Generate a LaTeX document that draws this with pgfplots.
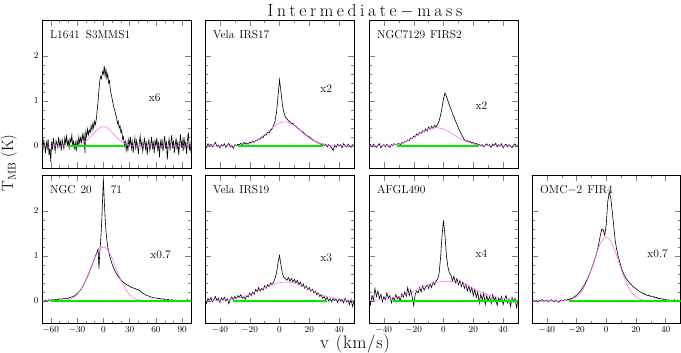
\documentclass[border=0pt]{standalone}
\usepackage{fontspec}
\usepackage{pgfplots}
\pgfplotsset{compat=1.18}

\definecolor{fitpink}{RGB}{255,110,255}
\definecolor{basegreen}{RGB}{0,235,0}
\newcommand{\labfont}{\fontsize{11.5}{13}\selectfont}
\newcommand{\bigfont}{\fontsize{17.5}{21}\selectfont}
\makeatletter
% put a little space after every letter (wide plotter-style lettering)
\newcommand{\spaceout}[2]{\@tfor\next:=#2\do{\next\hspace{#1}}}
\makeatother

\pgfplotsset{
  spec/.style={
    scale only axis, width=149pt, height=148.5pt, anchor=north west,
    ymin=-0.5, ymax=2.8, ytick={0,1,2}, minor y tick num=4,
    tick align=inside, tick pos=both,
    major tick length=6pt, minor tick length=3pt,
    every tick/.append style={line width=0.4pt},
    axis line style={line width=0.6pt},
    tick label style={font=\fontsize{9.5}{11}\selectfont},
  },
  wide/.style={xmin=-70, xmax=100, xtick={-60,-30,0,30,60,90}, minor x tick num=2},
  narrow/.style={xmin=-50, xmax=50, xtick={-40,-20,0,20,40}, minor x tick num=1},
  nox/.style={xticklabels={}},
  noy/.style={yticklabels={}},
  obs/.style={black, line width=0.6pt, no markers},
  fit/.style={fitpink, line width=0.6pt, no markers, smooth},
  base/.style={basegreen, line width=1.2pt, no markers},
}
\newcommand{\name}[1]{\node[anchor=north west, inner sep=0, font=\labfont, xshift=8pt, yshift=-10.5pt] at (rel axis cs:0,1) {#1};}
\newcommand{\mult}[3]{\node[inner sep=0, font=\labfont] at (rel axis cs:#1,#2) {#3};}

\begin{document}
\begin{tikzpicture}
\path[use as bounding box] (0,0) rectangle (681pt,-353pt);

% L1641 S3MMS1
\begin{axis}[spec, wide, nox, at={(42pt,-20pt)}]
\addplot[obs] coordinates {
(-70,0.05) (-69,-0.10) (-68,0.12) (-67,0.02) (-66,-0.15) (-65,0.08) (-64,-0.05) (-63,0.15) (-62,-0.20) (-61,-0.05)
(-60,-0.35) (-59,0.10) (-58,-0.08) (-57,0.18) (-56,0.02) (-55,-0.12) (-54,0.12) (-53,0.05) (-52,-0.03) (-51,0.20)
(-50,0.00) (-49,0.10) (-48,-0.10) (-47,0.14) (-46,0.04) (-45,-0.06) (-44,0.18) (-43,0.06) (-42,0.22) (-41,0.02)
(-40,0.12) (-39,-0.04) (-38,0.16) (-37,0.08) (-36,0.24) (-35,0.02) (-34,0.10) (-33,-0.05) (-32,0.08) (-31,-0.12)
(-30,0.12) (-29,0.00) (-28,0.20) (-27,0.06) (-26,0.18) (-25,0.08) (-24,0.25) (-23,0.12) (-22,0.28) (-21,-0.15)
(-20,0.32) (-19,0.20) (-18,0.38) (-17,0.25) (-16,0.35) (-15,0.30) (-14,0.45) (-13,0.35) (-12,0.50) (-11,0.40)
(-10,0.55) (-9,0.48) (-8,0.60) (-7,0.80) (-6,1.00) (-5,1.25) (-4,1.45) (-3,1.55) (-2,1.50) (-1,1.65)
(0,1.60) (1,1.78) (2,1.55) (3,1.70) (4,1.50) (5,1.60) (6,1.40) (7,1.45) (8,1.25) (9,1.15)
(10,1.05) (11,0.95) (12,0.85) (13,0.80) (14,0.70) (15,0.65) (16,0.50) (17,0.55) (18,0.40) (19,0.45)
(20,0.30) (21,0.35) (22,0.15) (23,0.20) (24,0.00) (25,0.10) (26,-0.10) (27,0.08) (28,-0.12) (29,0.15)
(30,0.02) (31,0.20) (32,-0.05) (33,0.10) (34,-0.15) (35,0.05) (36,0.18) (37,-0.08) (38,0.12) (39,0.00)
(40,-0.18) (41,0.08) (42,0.22) (43,-0.02) (44,0.10) (45,-0.12) (46,0.05) (47,0.16) (48,-0.06) (49,0.10)
(50,-0.20) (51,0.04) (52,0.14) (53,-0.10) (54,0.02) (55,0.20) (56,-0.04) (57,0.08) (58,-0.16) (59,0.12)
(60,0.00) (61,0.18) (62,-0.08) (63,0.06) (64,-0.25) (65,0.10) (66,-0.02) (67,0.15) (68,-0.12) (69,0.05)
(70,0.22) (71,-0.06) (72,0.10) (73,-0.30) (74,0.04) (75,0.16) (76,-0.10) (77,0.08) (78,0.24) (79,-0.05)
(80,0.12) (81,-0.15) (82,0.02) (83,0.18) (84,-0.08) (85,0.10) (86,-0.20) (87,0.06) (88,0.26) (89,-0.04)
(90,0.12) (91,-0.12) (92,0.20) (93,-0.02) (94,0.08) (95,-0.18) (96,0.15) (97,0.30) (98,-0.10) (99,0.05) (100,-0.15)
};
\addplot[fit] coordinates {
(-70,0) (-50,0) (-45,0.0003) (-40,0.0017) (-35,0.006) (-30,0.019) (-25,0.049) (-20,0.107) (-15,0.197) (-10,0.304)
(-5,0.394) (0,0.43) (5,0.394) (10,0.304) (15,0.197) (20,0.107) (25,0.049) (30,0.019) (35,0.006) (40,0.0017) (45,0.0003) (50,0) (100,0)
};
\addplot[base] coordinates {(-40,0) (26,0)};
\name{L1641\hspace{6pt}S3MMS1}
\mult{0.756}{0.473}{x6}
\end{axis}

% Vela IRS17
\begin{axis}[spec, narrow, nox, noy, at={(205pt,-20pt)}]
\addplot[obs] coordinates {
(-50,0.02) (-49,-0.03) (-48,0.05) (-47,0.00) (-46,0.04) (-45,-0.02) (-44,0.03) (-43,0.08) (-42,-0.01) (-41,0.02)
(-40,-0.04) (-39,0.03) (-38,0.00) (-37,0.05) (-36,-0.03) (-35,0.02) (-34,0.06) (-33,-0.02) (-32,0.01) (-31,-0.05)
(-30,0.03) (-29,0.00) (-28,0.04) (-27,0.02) (-26,0.06) (-25,0.03) (-24,0.08) (-23,0.05) (-22,0.07) (-21,0.04)
(-20,0.09) (-19,0.07) (-18,0.11) (-17,0.08) (-16,0.13) (-15,0.12) (-14,0.16) (-13,0.15) (-12,0.20) (-11,0.19)
(-10,0.25) (-9,0.24) (-8,0.30) (-7,0.29) (-6,0.35) (-5,0.38) (-4,0.45) (-3,0.55) (-2,0.75) (-1,1.10)
(0,1.47) (1,1.20) (2,0.90) (3,0.74) (4,0.64) (5,0.60) (6,0.56) (7,0.54) (8,0.50) (9,0.50)
(10,0.46) (11,0.44) (12,0.40) (13,0.39) (14,0.34) (15,0.33) (16,0.30) (17,0.27) (18,0.24) (19,0.22)
(20,0.20) (21,0.17) (22,0.15) (23,0.12) (24,0.10) (25,0.09) (26,0.06) (27,0.07) (28,0.03) (29,0.05)
(30,0.01) (31,0.04) (32,-0.02) (33,0.03) (34,0.00) (35,-0.04) (36,-0.10) (37,0.02) (38,-0.03) (39,0.04)
(40,0.00) (41,0.03) (42,-0.04) (43,0.05) (44,0.01) (45,-0.02) (46,0.04) (47,0.00) (48,-0.03) (49,0.03) (50,0.01)
};
\addplot[fit] coordinates {
(-50,0) (-45,0) (-40,0.0002) (-35,0.0012) (-30,0.0052) (-25,0.019) (-20,0.055) (-15,0.132) (-10,0.254) (-5,0.40)
(0,0.514) (5,0.535) (10,0.454) (15,0.312) (20,0.175) (25,0.080) (30,0.030) (35,0.009) (40,0.0022) (45,0.0004) (50,0)
};
\addplot[base] coordinates {(-28,0) (29,0)};
\name{Vela\hspace{5pt}IRS17}
\mult{0.814}{0.539}{x2}
\end{axis}

% NGC7129 FIRS2
\begin{axis}[spec, narrow, nox, noy, at={(369pt,-20pt)}]
\addplot[obs] coordinates {
(-50,0.00) (-49,0.03) (-48,-0.02) (-47,0.04) (-46,0.00) (-45,-0.03) (-44,0.02) (-43,0.05) (-42,-0.04) (-41,0.01)
(-40,0.03) (-39,-0.02) (-38,0.04) (-37,0.00) (-36,-0.03) (-35,0.03) (-34,0.01) (-33,0.05) (-32,0.02) (-31,0.04)
(-30,0.06) (-29,0.03) (-28,0.08) (-27,0.06) (-26,0.10) (-25,0.09) (-24,0.14) (-23,0.12) (-22,0.18) (-21,0.16)
(-20,0.22) (-19,0.20) (-18,0.27) (-17,0.24) (-16,0.30) (-15,0.28) (-14,0.34) (-13,0.31) (-12,0.38) (-11,0.33)
(-10,0.42) (-9,0.37) (-8,0.44) (-7,0.39) (-6,0.46) (-5,0.42) (-4,0.48) (-3,0.55) (-2,0.68) (-1,0.85)
(0,1.05) (1,1.18) (2,1.10) (3,1.00) (4,0.90) (5,0.82) (6,0.72) (7,0.65) (8,0.56) (9,0.48)
(10,0.40) (11,0.33) (12,0.26) (13,0.20) (14,0.14) (15,0.10) (16,0.12) (17,0.08) (18,0.10) (19,0.06)
(20,0.08) (21,0.04) (22,0.06) (23,0.02) (24,0.04) (25,0.00) (26,0.03) (27,-0.02) (28,0.02) (29,0.05)
(30,0.00) (31,0.03) (32,-0.03) (33,0.04) (34,0.01) (35,0.06) (36,-0.02) (37,0.03) (38,0.00) (39,0.05)
(40,-0.04) (41,0.02) (42,0.04) (43,-0.02) (44,0.03) (45,0.00) (46,-0.04) (47,0.02) (48,0.05) (49,-0.01) (50,0.02)
};
\addplot[fit] coordinates {
(-50,0.0004) (-45,0.0016) (-40,0.0058) (-35,0.018) (-30,0.047) (-25,0.102) (-20,0.188) (-15,0.29) (-10,0.376) (-5,0.41)
(0,0.376) (5,0.29) (10,0.188) (15,0.102) (20,0.047) (25,0.018) (30,0.0058) (35,0.0016) (40,0.0004) (45,0.0001) (50,0)
};
\addplot[base] coordinates {(-31,0) (24,0)};
\name{NGC7129\hspace{5pt}FIRS2}
\mult{0.754}{0.426}{x2}
\end{axis}

% NGC 2071
\begin{axis}[spec, wide, at={(42pt,-175pt)}]
\addplot[obs] coordinates {
(-70,0.00) (-68,-0.02) (-66,0.02) (-64,-0.01) (-62,0.03) (-60,0.01) (-58,0.03) (-56,0.02) (-54,0.04) (-52,0.03)
(-50,0.05) (-48,0.04) (-46,0.05) (-44,0.05) (-42,0.06) (-40,0.06) (-38,0.08) (-36,0.09) (-34,0.10) (-32,0.13)
(-30,0.16) (-28,0.20) (-26,0.25) (-24,0.30) (-22,0.38) (-20,0.46) (-18,0.55) (-16,0.64) (-14,0.74) (-12,0.84)
(-10,0.95) (-9,1.00) (-8,1.05) (-7,1.10) (-6,1.15) (-5,0.72) (-4,1.10) (-3,1.35) (-2,1.70) (-1,2.20)
(0,2.70) (1,2.25) (2,1.85) (3,1.55) (4,1.35) (5,1.20) (6,1.10) (7,1.02) (8,0.95) (9,0.88)
(10,0.82) (12,0.72) (14,0.64) (16,0.58) (18,0.52) (20,0.47) (22,0.43) (24,0.40) (26,0.37) (28,0.35)
(30,0.33) (32,0.30) (34,0.29) (36,0.28) (38,0.26) (40,0.25) (42,0.22) (44,0.19) (46,0.16) (48,0.14)
(50,0.12) (52,0.11) (54,0.09) (56,0.08) (58,0.07) (60,0.07) (62,0.05) (64,0.06) (66,0.04) (68,0.05)
(70,0.03) (72,0.02) (74,0.04) (76,0.01) (78,0.03) (80,0.00) (82,0.02) (84,-0.01) (86,0.02) (88,0.00)
(90,0.01) (92,-0.02) (94,0.01) (96,0.03) (98,-0.01) (100,0.01)
};
\addplot[fit] coordinates {
(-70,0) (-60,0.0002) (-50,0.0031) (-45,0.0097) (-40,0.027) (-35,0.065) (-30,0.141) (-25,0.271) (-20,0.463) (-15,0.702)
(-10,0.946) (-5,1.131) (0,1.2) (5,1.131) (10,0.946) (15,0.702) (20,0.463) (25,0.271) (30,0.141) (35,0.065)
(40,0.027) (45,0.0097) (50,0.0031) (60,0.0002) (70,0) (100,0)
};
\addplot[base] coordinates {(-60,0) (100,0)};
\name{NGC\hspace{5pt}20\hspace{19pt}71}
\mult{0.796}{0.463}{x0.7}
\end{axis}

% Vela IRS19
\begin{axis}[spec, narrow, noy, at={(205pt,-175pt)}]
\addplot[obs] coordinates {
(-50,0.02) (-49,-0.05) (-48,0.06) (-47,0.00) (-46,0.08) (-45,-0.02) (-44,0.04) (-43,0.10) (-42,0.01) (-41,0.06)
(-40,-0.03) (-39,0.07) (-38,0.02) (-37,0.08) (-36,0.00) (-35,0.05) (-34,-0.06) (-33,0.04) (-32,0.09) (-31,0.03)
(-30,0.10) (-29,0.05) (-28,0.12) (-27,0.08) (-26,0.14) (-25,0.06) (-24,0.10) (-23,0.04) (-22,0.12) (-21,0.09)
(-20,0.18) (-19,0.12) (-18,0.20) (-17,0.15) (-16,0.26) (-15,0.20) (-14,0.30) (-13,0.22) (-12,0.28) (-11,0.24)
(-10,0.34) (-9,0.28) (-8,0.36) (-7,0.32) (-6,0.40) (-5,0.36) (-4,0.42) (-3,0.50) (-2,0.62) (-1,0.85)
(0,1.01) (1,0.80) (2,0.60) (3,0.52) (4,0.50) (5,0.46) (6,0.52) (7,0.44) (8,0.50) (9,0.42)
(10,0.48) (11,0.40) (12,0.46) (13,0.36) (14,0.42) (15,0.32) (16,0.38) (17,0.28) (18,0.33) (19,0.25)
(20,0.30) (21,0.22) (22,0.26) (23,0.18) (24,0.22) (25,0.14) (26,0.18) (27,0.10) (28,0.13) (29,0.06)
(30,0.10) (31,0.03) (32,0.08) (33,0.00) (34,0.05) (35,-0.02) (36,0.06) (37,0.01) (38,0.04) (39,-0.03)
(40,0.05) (41,0.00) (42,0.03) (43,-0.04) (44,0.06) (45,-0.02) (46,0.02) (47,-0.08) (48,0.04) (49,-0.12) (50,0.00)
};
\addplot[fit] coordinates {
(-50,0.002) (-45,0.0051) (-40,0.012) (-35,0.026) (-30,0.05) (-25,0.09) (-20,0.146) (-15,0.216) (-10,0.293) (-5,0.362)
(0,0.408) (5,0.419) (10,0.393) (15,0.336) (20,0.262) (25,0.187) (30,0.121) (35,0.072) (40,0.039) (45,0.019) (50,0.0086)
};
\addplot[base] coordinates {(-31,0) (32,0)};
\name{Vela\hspace{5pt}IRS19}
\mult{0.814}{0.441}{x3}
\end{axis}

% AFGL490
\begin{axis}[spec, narrow, noy, at={(369pt,-175pt)}]
\addplot[obs] coordinates {
(-50,0.05) (-49,-0.08) (-48,0.12) (-47,0.02) (-46,0.28) (-45,0.10) (-44,0.22) (-43,0.05) (-42,0.15) (-41,-0.02)
(-40,0.10) (-39,0.03) (-38,0.18) (-37,0.06) (-36,0.12) (-35,-0.04) (-34,0.08) (-33,0.02) (-32,0.14) (-31,0.05)
(-30,0.10) (-29,0.00) (-28,0.16) (-27,0.08) (-26,0.20) (-25,0.10) (-24,0.30) (-23,0.12) (-22,0.25) (-21,0.08)
(-20,-0.10) (-19,0.15) (-18,0.22) (-17,0.18) (-16,0.30) (-15,0.20) (-14,0.34) (-13,0.24) (-12,0.30) (-11,0.36)
(-10,0.28) (-9,0.38) (-8,0.30) (-7,0.42) (-6,0.36) (-5,0.45) (-4,0.48) (-3,0.60) (-2,0.95) (-1,1.45)
(0,1.79) (1,1.45) (2,1.00) (3,0.75) (4,0.62) (5,0.58) (6,0.45) (7,0.55) (8,0.40) (9,0.50)
(10,0.36) (11,0.46) (12,0.32) (13,0.42) (14,0.28) (15,0.38) (16,0.22) (17,0.34) (18,0.20) (19,0.30)
(20,0.12) (21,0.26) (22,0.08) (23,0.20) (24,-0.05) (25,0.15) (26,0.02) (27,0.18) (28,-0.08) (29,0.12)
(30,0.00) (31,0.10) (32,-0.06) (33,0.14) (34,0.02) (35,0.08) (36,-0.10) (37,0.06) (38,0.00) (39,0.10)
(40,-0.08) (41,0.04) (42,0.12) (43,-0.04) (44,0.05) (45,-0.12) (46,0.08) (47,-0.02) (48,0.06) (49,-0.15) (50,0.02)
};
\addplot[fit] coordinates {
(-50,0.0085) (-45,0.0174) (-40,0.0334) (-35,0.0595) (-30,0.0985) (-25,0.152) (-20,0.217) (-15,0.289) (-10,0.357) (-5,0.41)
(0,0.437) (5,0.434) (10,0.401) (15,0.344) (20,0.274) (25,0.203) (30,0.14) (35,0.0896) (40,0.0533) (45,0.0295) (50,0.0152)
};
\addplot[base] coordinates {(-34,0) (50,0)};
\name{AFGL490}
\mult{0.754}{0.468}{x4}
\end{axis}

% OMC-2 FIR4
\begin{axis}[spec, narrow, noy, width=148.5pt, at={(532pt,-175pt)}]
\addplot[obs] coordinates {
(-50,0.00) (-49,0.02) (-48,-0.01) (-47,0.01) (-46,-0.02) (-45,0.02) (-44,0.00) (-43,0.03) (-42,-0.01) (-41,0.01)
(-40,0.02) (-39,-0.02) (-38,0.01) (-37,0.03) (-36,0.00) (-35,-0.02) (-34,0.02) (-33,0.00) (-32,-0.03) (-31,0.01)
(-30,0.02) (-29,0.00) (-28,0.03) (-27,0.01) (-26,0.04) (-25,0.03) (-24,0.05) (-23,0.06) (-22,0.08) (-21,0.10)
(-20,0.13) (-19,0.16) (-18,0.20) (-17,0.24) (-16,0.29) (-15,0.34) (-14,0.40) (-13,0.47) (-12,0.54) (-11,0.62)
(-10,0.71) (-9,0.80) (-8,0.90) (-7,1.00) (-6,1.12) (-5,1.28) (-4,1.45) (-3,1.60) (-2,1.58) (-1,1.46)
(0,1.70) (1,2.20) (2,2.42) (3,2.30) (4,2.00) (5,1.68) (6,1.35) (7,1.15) (8,1.00) (9,0.88)
(10,0.76) (11,0.66) (12,0.58) (13,0.52) (14,0.47) (15,0.43) (16,0.39) (17,0.36) (18,0.32) (19,0.30)
(20,0.27) (21,0.25) (22,0.22) (23,0.20) (24,0.18) (25,0.17) (26,0.15) (27,0.14) (28,0.12) (29,0.13)
(30,0.10) (31,0.09) (32,0.10) (33,0.07) (34,0.08) (35,0.05) (36,0.06) (37,0.04) (38,0.05) (39,0.02)
(40,0.04) (41,0.01) (42,0.03) (43,0.00) (44,0.02) (45,-0.01) (46,0.03) (47,0.00) (48,0.02) (49,-0.02) (50,0.01)
};
\addplot[fit] coordinates {
(-50,0) (-35,0.0003) (-30,0.0028) (-25,0.019) (-22,0.050) (-20,0.089) (-18,0.151) (-16,0.241) (-14,0.366) (-12,0.524)
(-10,0.711) (-8,0.912) (-6,1.106) (-4,1.271) (-2,1.381) (0,1.42) (2,1.381) (4,1.271) (6,1.106) (8,0.912)
(10,0.711) (12,0.524) (14,0.366) (16,0.241) (18,0.151) (20,0.089) (22,0.050) (25,0.019) (30,0.0028) (35,0.0003) (50,0)
};
\addplot[base] coordinates {(-25,0) (50,0)};
\name{OMC$-$2\hspace{5pt}FIR4}
\mult{0.846}{0.468}{x0.7}
\end{axis}

\node[font=\bigfont, anchor=base, inner sep=0] at (365pt,-16.5pt) {\spaceout{3.6pt}{Intermediate{$-$}mass}};
\node[font=\fontsize{18}{21}\selectfont, anchor=base, inner sep=0] at (355pt,-348pt) {\spaceout{0.8pt}{v~(km/s)}};
\node[font=\fontsize{16}{19}\selectfont, rotate=90, anchor=center, inner sep=0] at (9pt,-163pt) {T$_{\mathrm{MB}}$ (K)};
\end{tikzpicture}
\end{document}
